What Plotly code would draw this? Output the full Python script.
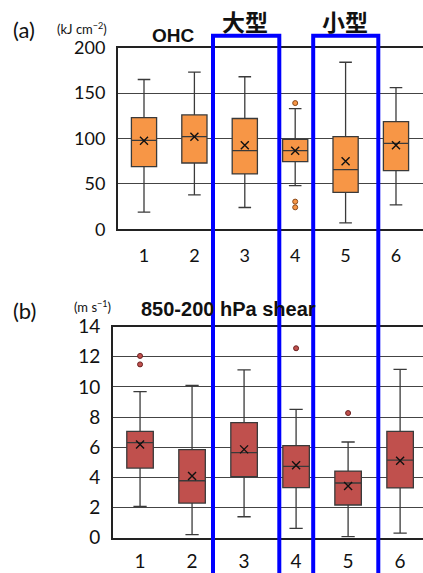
import plotly.graph_objects as go

cats = [1, 2, 3, 4, 5, 6]
tick_labels = ["1", "2", "3", "4", "5", "6"]

# Panel (a) OHC (kJ cm^-2)
ohc_low = [19, 38, 24, 48, 7, 27]
ohc_q1 = [69, 73, 61, 74.5, 40.7, 64.6]
ohc_med = [98, 102, 86.6, 86.6, 65.7, 94.7]
ohc_q3 = [123, 126, 122, 99, 102, 118.5]
ohc_high = [165, 173, 168, 133, 184, 156]
ohc_mean = [97.5, 102, 92.5, 86.6, 75, 92.5]
ohc_out_x = [4, 4, 4]
ohc_out_y = [139, 30.5, 24.2]

# Panel (b) 850-200 hPa shear (m s^-1)
sh_low = [2.08, 0.2, 1.39, 0.62, 0.07, 0.31]
sh_q1 = [4.62, 2.30, 4.05, 3.32, 2.17, 3.30]
sh_med = [6.31, 3.78, 5.64, 4.73, 3.63, 5.15]
sh_q3 = [7.06, 5.84, 7.63, 6.11, 4.42, 7.06]
sh_high = [9.69, 10.11, 11.13, 8.52, 6.35, 11.17]
sh_mean = [6.19, 4.09, 5.86, 4.80, 3.43, 5.11]
sh_out_x = [1, 1, 4, 5]
sh_out_y = [12.06, 11.5, 12.57, 8.27]

W, H = 423, 573
ORANGE = "#F79646"
RED = "#C0504D"
LINE = "#3a3a3a"

fig = go.Figure()

def add_panel(xa, ya, low, q1, med, q3, high, mean, ox, oy, fill, outc, width):
    fig.add_trace(go.Box(
        x=cats, q1=q1, median=med, q3=q3, lowerfence=low, upperfence=high,
        xaxis=xa, yaxis=ya, fillcolor=fill, line=dict(color=LINE, width=1.3),
        width=width, whiskerwidth=0.5, boxpoints=False, showlegend=False,
        hoverinfo="skip"))
    fig.add_trace(go.Scatter(
        x=cats, y=mean, xaxis=xa, yaxis=ya, mode="markers", showlegend=False,
        marker=dict(symbol="x-thin", size=8, line=dict(color="#111", width=1.4)),
        hoverinfo="skip"))
    fig.add_trace(go.Scatter(
        x=ox, y=oy, xaxis=xa, yaxis=ya, mode="markers", showlegend=False,
        marker=dict(symbol="circle", size=5, color=fill,
                    line=dict(color=outc, width=1)),
        hoverinfo="skip"))

add_panel("x", "y", ohc_low, ohc_q1, ohc_med, ohc_q3, ohc_high, ohc_mean,
          ohc_out_x, ohc_out_y, ORANGE, "#8a4a1a", 0.5)
add_panel("x2", "y2", sh_low, sh_q1, sh_med, sh_q3, sh_high, sh_mean,
          sh_out_x, sh_out_y, RED, "#6a2020", 0.51)

font_a = dict(family="Lato, Open Sans, sans-serif", size=18, color="#111")
font_b = dict(family="Lato, Open Sans, sans-serif", size=19, color="#111")

xcommon = dict(tickmode="array", tickvals=cats, ticktext=tick_labels,
               showgrid=False, zeroline=False, showline=True, linecolor="#222",
               linewidth=2, mirror=True, ticks="", automargin=False)
ycommon = dict(showgrid=True, gridcolor="#444", gridwidth=1, zeroline=False,
               showline=True, linecolor="#222", linewidth=2, mirror=False,
               ticks="", automargin=False, ticklabelstandoff=7)

fig.update_layout(
    template="none",
    width=W, height=H, margin=dict(l=0, r=0, t=0, b=0, pad=0),
    autosize=False,
    paper_bgcolor="white", plot_bgcolor="white",
    xaxis=dict(domain=[118 / W, 1.0], range=[0.484, 6.536], anchor="y",
               tickfont=font_a, ticklabelstandoff=9, **xcommon),
    yaxis=dict(domain=[1 - 229.3 / H, 1 - 47.7 / H], range=[0, 200],
               tickvals=[0, 50, 100, 150, 200], anchor="x",
               tickfont=font_a, **ycommon),
    xaxis2=dict(domain=[113 / W, 1.0], range=[0.48, 6.44], anchor="y2",
                tickfont=font_b, ticklabelstandoff=5, **xcommon),
    yaxis2=dict(domain=[1 - 537.7 / H, 1 - 326.7 / H], range=[0, 14],
                tickvals=[0, 2, 4, 6, 8, 10, 12, 14], anchor="x2",
                tickfont=font_b, **ycommon),
)

def txt(x, y, s, size, bold=False, family="Lato, sans-serif", xanchor="left"):
    fig.add_annotation(x=x / W, y=1 - y / H, xref="paper", yref="paper",
                       text=("<b>%s</b>" % s) if bold else s, showarrow=False,
                       xanchor=xanchor, yanchor="middle",
                       font=dict(family=family, size=size, color="#111"))

txt(11, 30, "(a)", 22)
txt(55, 29, "(kJ cm<sup>−2</sup>)", 13)
txt(150, 36, "OHC", 19, bold=True, family="Liberation Sans, Arial, sans-serif")
txt(245, 21, "大型", 23, bold=True, family="Noto Sans CJK JP", xanchor="center")
txt(345, 21, "小型", 23, bold=True, family="Noto Sans CJK JP", xanchor="center")
txt(11, 310, "(b)", 22)
txt(72, 306, "(m s<sup>−1</sup>)", 13)
txt(139, 309, "850-200 hPa shear", 20, bold=True,
    family="Liberation Sans, Arial, sans-serif")

# Blue rectangles marking groups
for x0, x1 in [(213, 279.3), (313.2, 378.3)]:
    fig.add_shape(type="rect", xref="paper", yref="paper",
                  x0=x0 / W, x1=x1 / W, y0=-0.05, y1=1 - 35.8 / H,
                  line=dict(color="#0000FF", width=4), fillcolor="rgba(0,0,0,0)",
                  layer="above")

fig.write_html("out.html", config={"displayModeBar": False},
               post_script="document.body.style.margin='0';"
                           "document.body.style.overflow='hidden';")
